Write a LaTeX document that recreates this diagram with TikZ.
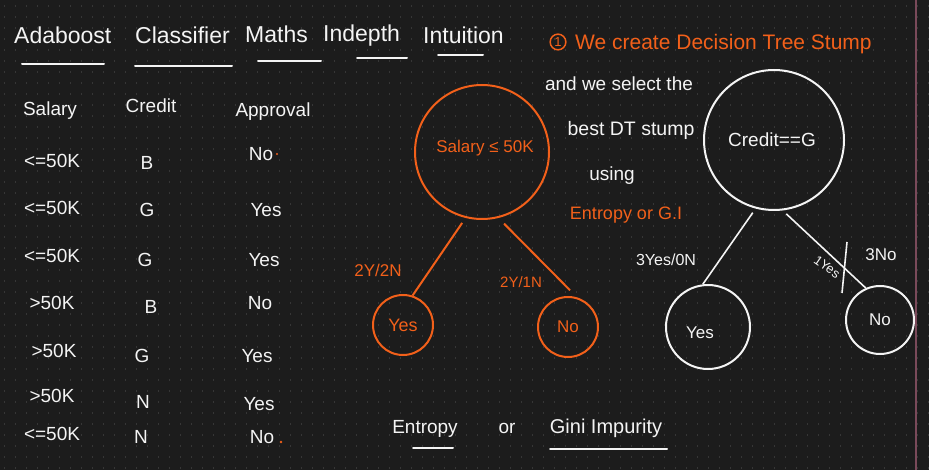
\documentclass[tikz,border=0pt]{standalone}
\usepackage{fontspec}
\setmainfont{Liberation Sans}
\definecolor{bg}{HTML}{1C1C1C}
\definecolor{dotc}{HTML}{363636}
\definecolor{ink}{HTML}{F4F4F4}
\definecolor{orng}{HTML}{F2601A}
\definecolor{edgec}{HTML}{7A4A5A}
\newcommand{\fs}[1]{\fontsize{#1}{#1}\selectfont}
\begin{document}
\begin{tikzpicture}[x=1pt,y=-1pt,
  txt/.style={text=ink, inner sep=0pt, font=\fs{19}},
  otxt/.style={txt, text=orng},
  ttl/.style={txt, font=\fs{23}, anchor=base west},
  cell/.style={txt, anchor=base},
  uline/.style={draw=ink, line width=2pt, line cap=round},
  ocirc/.style={draw=orng, line width=2pt, circle, inner sep=0pt, text=orng},
  wcirc/.style={draw=ink, line width=2pt, circle, inner sep=0pt, text=ink},
  oedge/.style={draw=orng, line width=2pt},
  wedge/.style={draw=ink, line width=1.6pt}]
\fill[bg] (0,0) rectangle (929,470);
\useasboundingbox (0,0) rectangle (929,470);
\foreach \yy in {6,17,...,468}
  \draw[dotc, line width=1.2pt, dash pattern=on 1.2pt off 9.8pt] (4,\yy) -- (929,\yy);
\draw[edgec, line width=1.2pt] (916,0) -- (916,470);

% title
\node[ttl] (t1) at (14,44) {Adaboost};
\node[ttl] (t2) at (135,44) {Classifier};
\node[ttl] (t3) at (245,43) {Maths};
\node[ttl] (t4) at (323,42) {Indepth};
\node[ttl] (t5) at (423,44) {Intuition};
\draw[uline] (22,64) -- (104,64);
\draw[uline] (135,66) -- (232,66);
\draw[uline] (258,61) -- (321,61);
\draw[uline] (357,58) -- (407,58);
\draw[uline] (438,55) -- (483,55);

% orange heading
\node[draw=orng, line width=1.5pt, circle, inner sep=1.5pt, text=orng, font=\fs{13}] (one) at (558,42) {1};
\node[otxt, font=\fs{21}, anchor=west] (head) at (575,44) {We create Decision Tree Stump};

% notes
\node[txt, font=\fs{19}] (n1) at (619,84) {and we select the};
\node[txt, font=\fs{19.5}] (n2) at (631,130) {best DT stump};
\node[txt, font=\fs{19}] (n3) at (612,176) {using};
\node[otxt, font=\fs{18}] (n4) at (626,215) {Entropy or G.I};

% table
\node[cell] (h1) at (50,116) {Salary};
\node[cell] (h2) at (151,113) {Credit};
\node[cell] (h3) at (273,117) {Approval};
\node[cell] (a1) at (52,168) {<=50K};
\node[cell] (b1) at (147,170) {B};
\node[cell] (c1) at (261,161) {No};
\node[cell] (a2) at (52,215) {<=50K};
\node[cell] (b2) at (147,217) {G};
\node[cell] (c2) at (266,217) {Yes};
\node[cell] (a3) at (52,263) {<=50K};
\node[cell] (b3) at (145,267) {G};
\node[cell] (c3) at (264,267) {Yes};
\node[cell] (a4) at (52,310) {>50K};
\node[cell] (b4) at (151,313) {B};
\node[cell] (c4) at (260,310) {No};
\node[cell] (a5) at (54,357) {>50K};
\node[cell] (b5) at (142,362) {G};
\node[cell] (c5) at (257,362) {Yes};
\node[cell] (a6) at (52,402) {>50K};
\node[cell] (b6) at (143,408) {N};
\node[cell] (c6) at (259,410) {Yes};
\node[cell] (a7) at (52,440) {<=50K};
\node[cell] (b7) at (141,443) {N};
\node[cell] (c7) at (262,443) {No};
\fill[orng] (277,154) circle (1.2pt);
\fill[orng] (281,442) circle (1.4pt);

% orange tree
\node[ocirc, minimum size=134pt] (sroot) at (482,152) {};
\node[otxt, font=\fs{17}] (stext) at (485,148) {Salary ≤ 50K};
\node[ocirc, minimum size=60pt, font=\fs{18}] (syes) at (403,325) {Yes};
\node[ocirc, minimum size=60pt, font=\fs{17}] (sno) at (568,327) {No};
\draw[oedge, shorten <=6pt] (sroot.256) -- (syes.72);
\draw[oedge, shorten <=8pt, shorten >=10pt] (sroot.284) -- (sno.73);
\node[otxt, font=\fs{17}] (l1) at (378,270) {2Y/2N};
\node[otxt, font=\fs{15}] (l2) at (521,282) {2Y/1N};

% white tree
\node[wcirc, minimum size=140pt] (croot) at (774,140) {};
\node[txt, font=\fs{19}] (ctext) at (772,140) {Credit==G};
\node[wcirc, minimum size=84pt] (cyes) at (708,327) {};
\node[txt, font=\fs{17}] (cyt) at (700,333) {Yes};
\node[wcirc, minimum size=68pt, font=\fs{17}] (cno) at (880,320) {No};
\draw[wedge, shorten <=5pt] (croot.255) -- (cyes.97);
\draw[wedge, shorten <=5pt] (croot.277) -- (cno.114);
\node[txt, font=\fs{16}] (l3) at (666,260) {3Yes/0N};
\node[txt, font=\fs{13}, rotate=-35] (l4) at (827,267) {1Yes};
\node[txt, font=\fs{17}] (l5) at (881,255) {3No};
\coordinate (s1) at (847,242);
\coordinate (s2) at (842,293);
\draw[wedge] (s1) -- (s2);

% bottom
\node[txt, font=\fs{19}, anchor=base] (e1) at (425,433) {Entropy};
\node[txt, font=\fs{19}, anchor=base] (e2) at (507,433) {or};
\node[txt, font=\fs{20}, anchor=base] (e3) at (606,433) {Gini Impurity};
\draw[uline] (413,448) -- (453,448);
\draw[uline] (550,449) -- (667,449);
\end{tikzpicture}
\end{document}
